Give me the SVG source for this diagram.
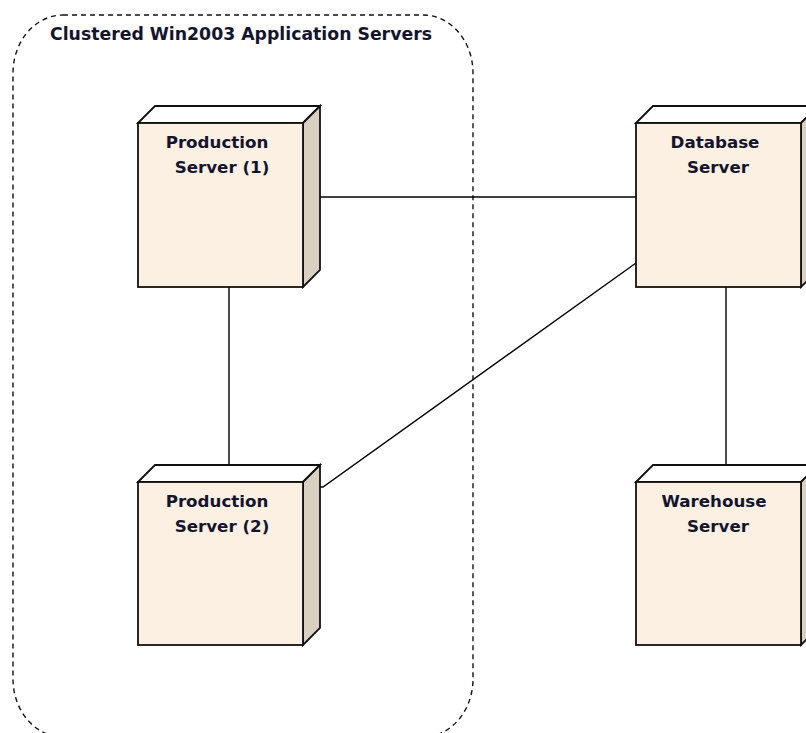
<svg xmlns="http://www.w3.org/2000/svg" width="806" height="733" viewBox="0 0 806 733">
<style>
.front{fill:#FBF0E2;stroke:#111;stroke-width:1.8}
.side{fill:#D9D0C1;stroke:#111;stroke-width:1.8;stroke-linejoin:miter}
.top{fill:#FFFFFF;stroke:#111;stroke-width:1.8}
.lbl{font-family:"DejaVu Sans",Verdana,sans-serif;font-weight:bold;font-size:16.7px;fill:#14142e;text-anchor:middle}
.conn{stroke:#000;stroke-width:1.4;fill:none}
</style>
<rect width="806" height="733" fill="#FFFFFF"/>
<g id="group-cluster">
<rect x="13" y="15" width="460" height="722" rx="50" ry="58" fill="none" stroke="#111" stroke-width="1.4" stroke-dasharray="5,4"/>
<text x="50" y="40" style="font-family:'DejaVu Sans',Verdana,sans-serif;font-weight:bold;font-size:17.3px;fill:#14142e">Clustered Win2003 Application Servers</text>
</g>
<g id="connectors">
<line class="conn" x1="320" y1="197" x2="636" y2="197"/>
<line class="conn" x1="229" y1="287" x2="229" y2="466"/>
<line class="conn" x1="726" y1="287" x2="726" y2="465"/>
<polyline class="conn" points="320,487 323,487 636,263"/>
</g>
<g id="node-prod1">
<polygon class="top" points="138,123 155,106 320,106 303,123"/>
<polygon class="side" points="303,123 320,106 320,270 303,287"/>
<rect class="front" x="138" y="123" width="165" height="164"/>
<text class="lbl" x="217" y="148">Production</text>
<text class="lbl" x="222" y="173">Server (1)</text>
</g>
<g id="node-prod2">
<polygon class="top" points="138,482 155,465 320,465 303,482"/>
<polygon class="side" points="303,482 320,465 320,628 303,645"/>
<rect class="front" x="138" y="482" width="165" height="163"/>
<text class="lbl" x="217" y="507">Production</text>
<text class="lbl" x="222" y="532">Server (2)</text>
</g>
<g id="node-db">
<polygon class="top" points="636,123 653,106 818,106 801,123"/>
<polygon class="side" points="801,123 818,106 818,270 801,287"/>
<rect class="front" x="636" y="123" width="165" height="164"/>
<text class="lbl" x="715" y="148">Database</text>
<text class="lbl" x="718" y="173">Server</text>
</g>
<g id="node-warehouse">
<polygon class="top" points="636,482 653,465 818,465 801,482"/>
<polygon class="side" points="801,482 818,465 818,628 801,645"/>
<rect class="front" x="636" y="482" width="165" height="163"/>
<text class="lbl" x="714" y="507">Warehouse</text>
<text class="lbl" x="718" y="532">Server</text>
</g>
</svg>
